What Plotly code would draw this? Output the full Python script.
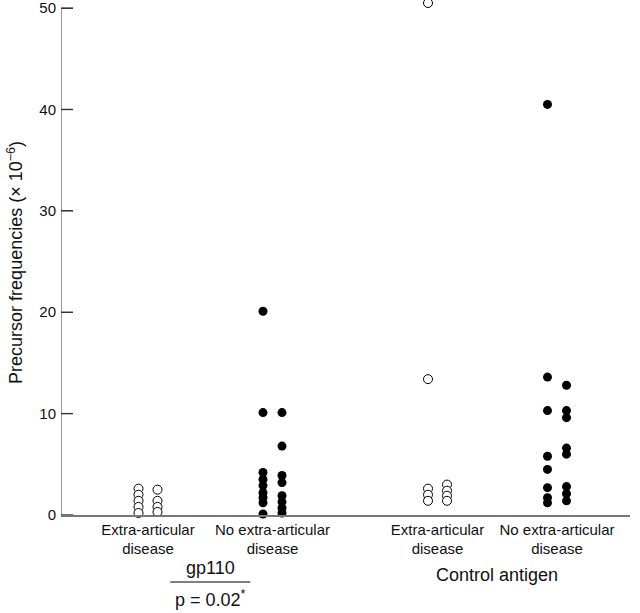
import plotly.graph_objects as go

# ---- data (precursor frequencies, x10^-6), two display columns per group ----
categories = ["Extra-articular<br>disease", "No extra-articular<br>disease",
              "Extra-articular<br>disease", "No extra-articular<br>disease"]
antigen_groups = ["gp110", "Control antigen"]
p_value_text = "p = 0.02<sup>*</sup>"
y_title = "Precursor frequencies (× 10<sup>−6</sup>)"

gp110_extra_a = [2.6, 2.0, 1.4, 0.8, 0.2]
gp110_extra_b = [2.5, 1.4, 0.8, 0.3]
gp110_noextra_a = [20.1, 10.1, 4.2, 3.5, 2.9, 2.2, 1.7, 1.2, 0.1]
gp110_noextra_b = [10.1, 6.8, 3.9, 3.2, 1.9, 1.3, 0.7, 0.2]
ctrl_extra_a = [50.5, 13.4, 2.6, 2.0, 1.4]
ctrl_extra_b = [3.0, 2.4, 1.9, 1.4]
ctrl_noextra_a = [40.5, 13.6, 10.3, 5.8, 4.5, 2.7, 1.7, 1.2]
ctrl_noextra_b = [12.8, 10.3, 9.6, 6.6, 6.0, 2.8, 2.1, 1.4]

y_ticks = [0, 10, 20, 30, 40, 50]

# ---- layout helpers ----
group_centers = [87, 211.5, 376.5, 496]
col_offsets = [-9.5, 9.5]
y_top = 50.6           # a little headroom so the 50.5 point is drawn
plot_top_px, plot_bottom_px = 2, 515
plot_width_px = 569
tick_len_px = 12

columns = [
    (0, 0, gp110_extra_a, False), (0, 1, gp110_extra_b, False),
    (1, 0, gp110_noextra_a, True), (1, 1, gp110_noextra_b, True),
    (2, 0, ctrl_extra_a, False), (2, 1, ctrl_extra_b, False),
    (3, 0, ctrl_noextra_a, True), (3, 1, ctrl_noextra_b, True),
]

fig = go.Figure()
for g, c, vals, filled in columns:
    xpos = group_centers[g] + col_offsets[c]
    fig.add_trace(go.Scatter(
        x=[xpos] * len(vals), y=vals, mode="markers",
        marker=dict(size=9, symbol="circle",
                    color="black" if filled else "white",
                    line=dict(color="black", width=0 if filled else 1)),
        cliponaxis=False, showlegend=False, hoverinfo="y"))

font_family = "Liberation Sans, Arial, Helvetica, sans-serif"
axis_grey = "#777"

fig.update_layout(
    width=640, height=613,
    margin=dict(l=61, r=10, t=plot_top_px, b=613 - plot_bottom_px, autoexpand=False),
    paper_bgcolor="white", plot_bgcolor="white",
    font=dict(family=font_family, size=15, color="#111"),
    xaxis=dict(range=[0, plot_width_px], showgrid=False, zeroline=False, automargin=False,
               showline=True, linecolor=axis_grey, linewidth=1.5,
               tickvals=group_centers, ticktext=categories, ticks="",
               ticklabeloverflow="allow", tickfont=dict(size=15)),
    yaxis=dict(range=[0, y_top], showgrid=False, zeroline=False, automargin=False,
               showline=False,
               tickvals=y_ticks, ticktext=[str(v) for v in y_ticks],
               ticks="inside", ticklen=tick_len_px, tickcolor="#444", tickwidth=1.2,
               ticklabelstandoff=4,
               ticklabeloverflow="allow", tickfont=dict(size=15)),
)

# y axis line drawn only from 0 to 50
fig.add_shape(type="line", xref="x", yref="y", x0=0, x1=0,
              y0=y_ticks[0], y1=y_ticks[-1], line=dict(color=axis_grey, width=1.5),
              layer="above")
# inward tick marks (x axis is scaled 1 unit = 1 px)
for v in y_ticks:
    fig.add_shape(type="line", xref="x", yref="y", x0=0, x1=tick_len_px,
                  y0=v, y1=v, line=dict(color="#333", width=1.4), layer="above")

def py(pixel_y):
    # convert a page pixel row into paper coordinates of the plot area
    return (plot_bottom_px - pixel_y) / float(plot_bottom_px - plot_top_px)

fig.add_annotation(x=-0.081, y=py(262), xref="paper", yref="paper",
                   text=y_title, textangle=-90, showarrow=False,
                   font=dict(size=18), xanchor="center", yanchor="middle")

gp_center = (group_centers[0] + group_centers[1]) / 2
ctrl_center = (group_centers[2] + group_centers[3]) / 2
fig.add_annotation(x=gp_center, y=py(568), xref="x", yref="paper",
                   text=antigen_groups[0], showarrow=False, font=dict(size=18),
                   yanchor="middle")
fig.add_annotation(x=gp_center, y=py(598), xref="x", yref="paper",
                   text=p_value_text, showarrow=False, font=dict(size=18),
                   yanchor="middle")
fig.add_annotation(x=ctrl_center, y=py(575), xref="x", yref="paper",
                   text=antigen_groups[1], showarrow=False, font=dict(size=18),
                   yanchor="middle")
fig.add_shape(type="line", xref="x", yref="paper",
              x0=gp_center - 40, x1=gp_center + 40, y0=py(582), y1=py(582),
              line=dict(color="black", width=1))

fig.write_html("out.html", config={"displayModeBar": False},
               post_script="document.body.style.margin='0px';document.body.style.padding='0px';")
